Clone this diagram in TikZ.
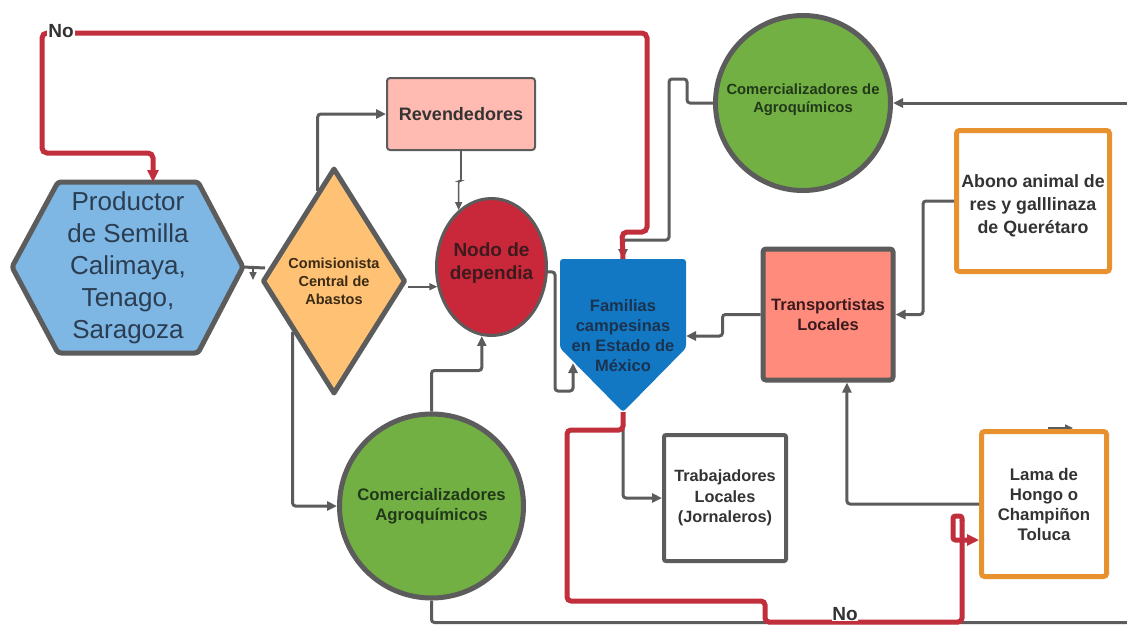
\documentclass[tikz,border=0pt]{standalone}
\usepackage{fontspec}
\setmainfont{Liberation Sans}
\usetikzlibrary{arrows.meta,shapes.geometric,calc}
\definecolor{lineg}{HTML}{5C5C5C}
\definecolor{redl}{HTML}{C12F3D}
\definecolor{hexfill}{HTML}{7EB6E4}
\definecolor{diafill}{HTML}{FFC274}
\definecolor{revfill}{HTML}{FFBAB1}
\definecolor{nodofill}{HTML}{C9283A}
\definecolor{famfill}{HTML}{1378C3}
\definecolor{greenfill}{HTML}{72B043}
\definecolor{transfill}{HTML}{FF8B7C}
\definecolor{orangeb}{HTML}{E8922F}
\definecolor{txt}{HTML}{333333}
\definecolor{hextxt}{HTML}{2B3D50}
\definecolor{greentxt}{HTML}{22381A}
\definecolor{nodotxt}{HTML}{3D1A1D}
\definecolor{diatxt}{HTML}{3B2A14}
\definecolor{famtxt}{HTML}{1A3350}
\begin{document}
\begin{tikzpicture}[x=1pt,y=-1pt,
  conn/.style={draw=lineg,line width=3pt,rounded corners=3pt,-{Triangle[length=10pt,width=9pt]}},
  thinconn/.style={draw=lineg,line width=1.6pt,rounded corners=2pt,-{Triangle[length=8pt,width=7pt]}},
  redconn/.style={draw=redl,line width=5pt,rounded corners=5pt},
  redtip/.style={-{Triangle[length=12pt,width=11pt]}},
  nolbl/.style={font=\bfseries\fontsize{19}{22}\selectfont,text=txt,fill=white,inner sep=1pt},
  boxbase/.style={rectangle,inner sep=0pt,align=center,text=txt},
  thickgrey/.style={draw=lineg,line width=5pt}
]
\useasboundingbox (0,0) rectangle (1127,625);
\fill[white] (0,0) rectangle (1127,625);
\clip (0,0) rectangle (1127,625);

% ---------- shapes ----------
% hexagon
\filldraw[fill=hexfill,thickgrey,rounded corners=3pt,line join=round]
  (12,267) -- (58,182) -- (198,182) -- (243,267) -- (198,353) -- (58,353) -- cycle;
\node[align=center,text=hextxt,font=\fontsize{26}{32}\selectfont] (hex) at (128,268)
  {Productor\\de Semilla\\Calimaya,\\Tenago,\\Saragoza};
\coordinate (hex-e) at (243,267);
\coordinate (hex-n) at (153,182);

% diamond
\node[diamond,draw=lineg,line width=5pt,fill=diafill,minimum width=143pt,minimum height=226pt,
  inner sep=0pt,line join=round,align=center,text=diatxt,
  font=\bfseries\fontsize{14.5}{18}\selectfont] (dia) at (334,281)
  {Comisionista\\Central de\\Abastos};

% Revendedores
\node[boxbase,draw=lineg,line width=2pt,fill=revfill,rounded corners=3pt,
  minimum width=148pt,minimum height=72pt,font=\bfseries\fontsize{18}{20}\selectfont] (rev) at (461,114)
  {Revendedores};

% Nodo de dependia
\node[ellipse,draw=lineg,line width=3pt,fill=nodofill,minimum width=110pt,minimum height=137pt,
  inner sep=0pt] (nodo) at (491.5,267) {};
\node[align=center,text=nodotxt,font=\bfseries\fontsize{19}{23}\selectfont] (nodoT) at (491.5,263.5)
  {Nodo de\\dependia};

% Familias pentagon
\fill[famfill,rounded corners=3pt] (560,259) -- (686,259) -- (686,348) -- (623,412) -- (560,348) -- cycle;
\node[align=center,text=famtxt,font=\bfseries\fontsize{16.5}{20}\selectfont] (fam) at (623,336)
  {Familias\\campesinas\\en Estado de\\México};
\coordinate (fam-n) at (623,259);
\coordinate (fam-s) at (623,412);
\coordinate (fam-e) at (686,336);
\coordinate (fam-ll) at (573,363);

% top green circle
\node[circle,draw=lineg,line width=5pt,fill=greenfill,minimum size=175pt,inner sep=0pt] (agroT) at (803,103) {};
\node[align=center,text=greentxt,font=\bfseries\fontsize{14.8}{18}\selectfont] (agroTT) at (803,100)
  {Comercializadores de\\Agroquímicos};

% Abono box
\node[boxbase,draw=orangeb,line width=5pt,rounded corners=3pt,minimum width=153pt,minimum height=141pt]
  (abono) at (1033,201) {};
\node[align=center,text=txt,font=\bfseries\fontsize{17.8}{23}\selectfont] (abonoT) at (1033,206)
  {Abono animal de\\res y galllinaza\\de Querétaro};

% Transportistas
\node[boxbase,draw=lineg,line width=5pt,fill=transfill,rounded corners=3pt,minimum width=130pt,
  minimum height=131pt,text=nodotxt,font=\bfseries\fontsize{16.5}{20}\selectfont] (trans) at (828,314.5)
  {Transportistas\\Locales};

% Trabajadores
\node[boxbase,draw=lineg,line width=4pt,rounded corners=2pt,minimum width=122pt,minimum height=126pt,
  font=\bfseries\fontsize{16.3}{20.5}\selectfont] (trab) at (725,498)
  {Trabajadores\\Locales\\(Jornaleros)};

% bottom green circle
\node[circle,draw=lineg,line width=5pt,fill=greenfill,minimum size=184pt,inner sep=0pt,
  align=center,text=greentxt,font=\bfseries\fontsize{16.7}{20}\selectfont] (agroB) at (431.5,506)
  {Comercializadores\\Agroquímicos};

% Lama box
\draw[thinconn] (1048,428) -- (1073,428);
\node[boxbase,draw=orangeb,line width=5pt,rounded corners=3pt,minimum width=125pt,minimum height=145pt,
  font=\bfseries\fontsize{16.8}{20}\selectfont] (lama) at (1044,504)
  {Lama de\\Hongo o\\Champiñon\\Toluca};

% ---------- grey connectors ----------
\coordinate (redge) at (1127,103);
\draw[conn] (redge) -- (agroT.east);
\draw[conn] (agroT.west) -- (687,103) -- (687,79) -- (669,79) -- (669,240) -- (623,240) -- (fam-n);
\draw[draw=lineg,line width=3pt] (hex-e) -- (265,268);
\draw[thinconn] (253,268) -- (253,280);
\draw[conn] ($(dia.north)!0.22!(dia.west)$) |- (rev.west);
\draw[thinconn] (rev.south) -- ++(0,30) -| (nodo.120);
\draw[thinconn] (dia.east |- nodo.200) -- (nodo.200);
\draw[conn] ($(dia.west)!0.44!(dia.south)$) |- (agroB.west);
\draw[conn] (agroB.north) -- ++(0,-41) -| (nodo.262);
\draw[conn] (nodo.355) -| (555,391) -| (fam-ll);
\draw[conn] (trans.west) -- ++(-38,0) |- (fam-e);
\draw[conn] (abono.west) -- ++(-31,0) |- (trans.east);
\draw[conn] (lama.west) -| ($(trans.south)!0.28!(trans.south east)$);
\draw[conn] (fam-s) |- (trab.west);
\coordinate (bedge) at (1127,622.5);
\draw[draw=lineg,line width=3pt,rounded corners=3pt] (agroB.south) |- (bedge);

% ---------- red connectors ----------
\draw[redconn,redtip] (fam-n) -- (622,232) -- (647,232) -- (647,33) -- (42,33) -- (42,153) -- (153,153) -- (hex-n);
\node[nolbl] (no1) at (61,31) {No};
\draw[redconn,rounded corners=4pt] (fam-s) -- (623,430) -- (567,430) -- (567,601) -- (765,601)
  -- (765,622) -- (962,622) -- (962,520);
\draw[redconn,redtip,rounded corners=2.5pt] (962,521) -- (962,516) -- (953,516) -- (953,540) -- (lama.west |- 0,540);
\node[nolbl,anchor=base,inner sep=0.5pt] (no2) at (845,620.5) {No};
\end{tikzpicture}
\end{document}
